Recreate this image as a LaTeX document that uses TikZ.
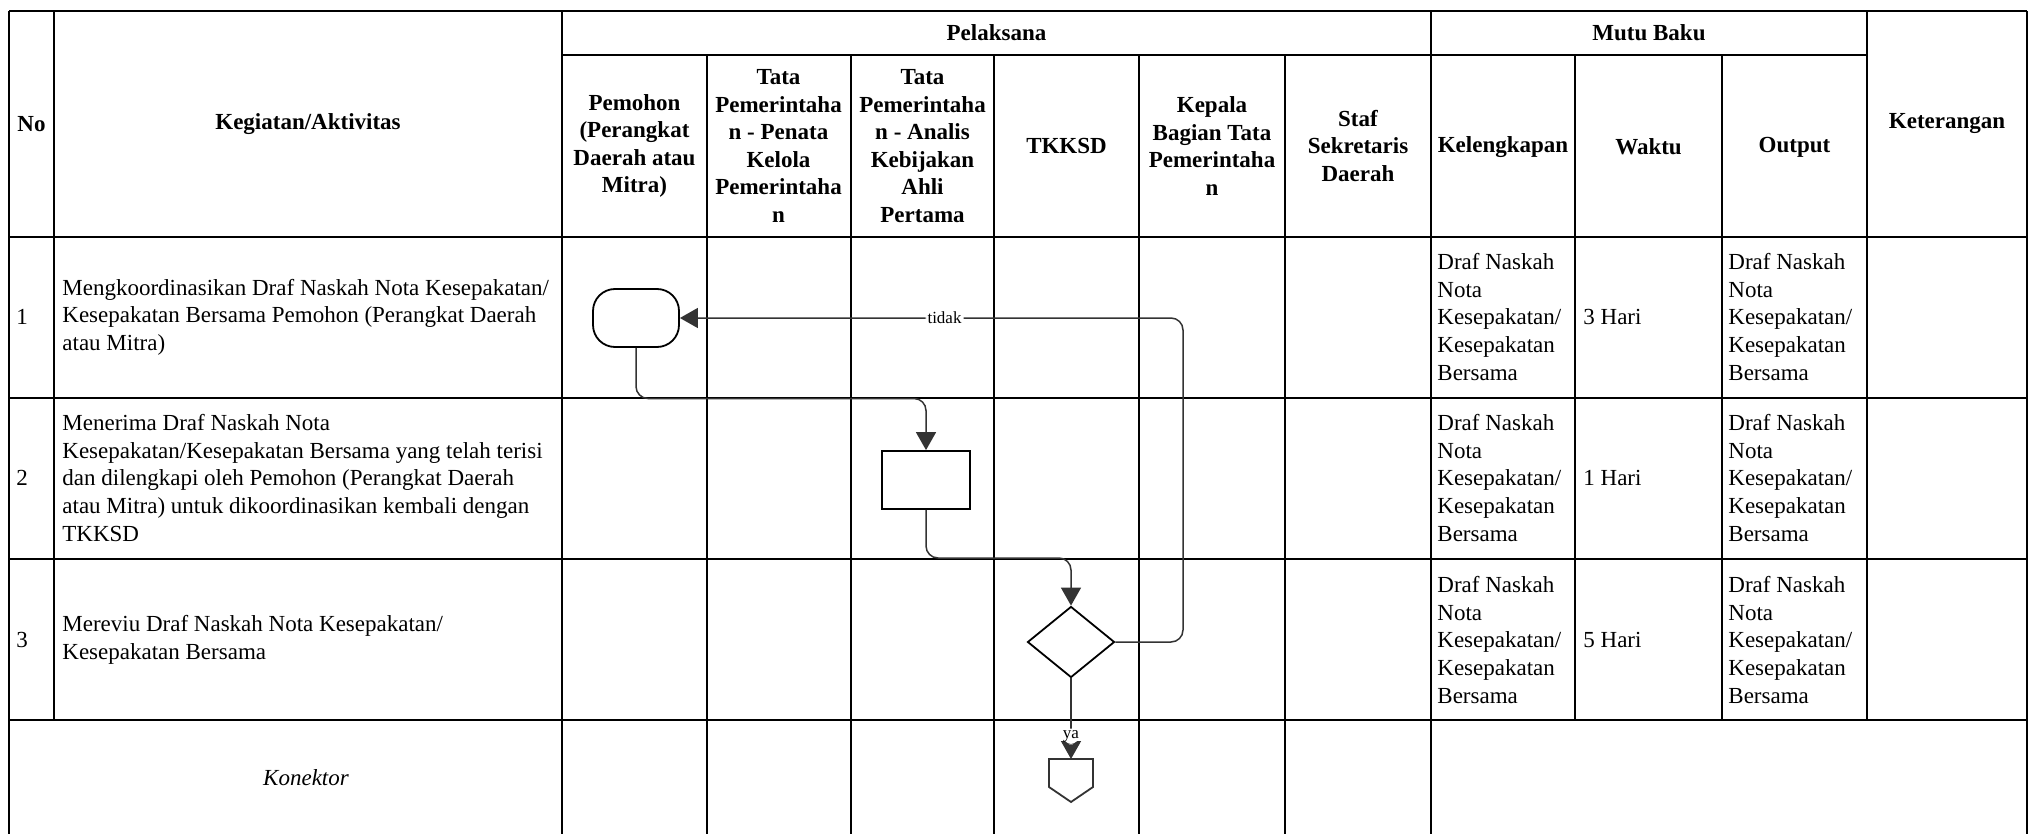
\documentclass[tikz,border=0pt]{standalone}
\usepackage{fontspec}
\setmainfont{Liberation Serif}
\usetikzlibrary{shapes.geometric,arrows.meta}
\definecolor{flowgray}{HTML}{333333}
\begin{document}
\begin{tikzpicture}[x=0.5pt,y=-0.5pt,
  grid/.style={line width=1pt,black},
  hdr/.style={font=\fontsize{11.5pt}{13.8pt}\selectfont\bfseries,align=center,inner sep=0pt},
  body/.style={font=\fontsize{11.5pt}{13.8pt}\selectfont,align=left,inner sep=0pt,anchor=west},
  conn/.style={draw=flowgray,line width=0.75pt,rounded corners=6pt,-{Triangle[length=9pt,width=10pt]}},
  lbl/.style={font=\fontsize{8.5pt}{10pt}\selectfont,fill=white,inner sep=1pt,text=black},
  term/.style={draw,line width=0.9pt,rounded corners=11pt,minimum width=43pt,minimum height=29pt,inner sep=0pt,fill=white},
  proc/.style={draw,line width=0.9pt,minimum width=44pt,minimum height=29pt,inner sep=0pt,fill=white},
  dec/.style={draw,diamond,line width=0.9pt,minimum width=43.5pt,minimum height=35.5pt,inner sep=0pt,fill=white}
]
\useasboundingbox (0,0) rectangle (2029,834);
\fill[white] (0,0) rectangle (2029,834);

% ---- table grid ----
\draw[grid] (9,11) -- (2027,11);
\draw[grid] (562,55) -- (1867,55);
\foreach \yy in {237,397.5,559,720} \draw[grid] (9,\yy) -- (2027,\yy);
\foreach \xx in {9,562,1431,2027} \draw[grid] (\xx,11) -- (\xx,840);
\draw[grid] (54,11) -- (54,720);
\draw[grid] (1867,11) -- (1867,720);
\foreach \xx in {707,851,994,1139,1285} \draw[grid] (\xx,55) -- (\xx,840);
\foreach \xx in {1575,1722} \draw[grid] (\xx,55) -- (\xx,720);

% ---- header ----
\node[hdr] (hNo) at (31.5,124) {No};
\node[hdr] (hKeg) at (308,124) {Kegiatan/Aktivitas};
\node[hdr] (hPel) at (996.5,33) {Pelaksana};
\node[hdr] (hMutu) at (1649,33) {Mutu Baku};
\node[hdr] (hKet) at (1947,124) {Keterangan};
\node[hdr] (hPem) at (634.5,146) {Pemohon\\(Perangkat\\Daerah atau\\Mitra)};
\node[hdr] (hT1) at (778.5,146) {Tata\\Pemerintaha\\n - Penata\\Kelola\\Pemerintaha\\n};
\node[hdr] (hT2) at (922.5,146) {Tata\\Pemerintaha\\n - Analis\\Kebijakan\\Ahli\\Pertama};
\node[hdr] (hTK) at (1066.5,146) {TKKSD};
\node[hdr] (hKep) at (1212,146) {Kepala\\Bagian Tata\\Pemerintaha\\n};
\node[hdr] (hStaf) at (1358,146) {Staf\\Sekretaris\\Daerah};
\node[hdr] (hKel) at (1503,147) {Kelengkapan};
\node[hdr] (hWak) at (1648.5,147) {Waktu};
\node[hdr] (hOut) at (1794.5,147) {Output};

% ---- rows ----
\node[body] (n1) at (16,317) {1};
\node[body] (n2) at (16,478) {2};
\node[body] (n3) at (16,640) {3};
\node[body] (k1) at (62,317) {Mengkoordinasikan Draf Naskah Nota Kesepakatan/\\Kesepakatan Bersama Pemohon (Perangkat Daerah\\atau Mitra)};
\node[body] (k2) at (62,478) {Menerima Draf Naskah Nota\\Kesepakatan/Kesepakatan Bersama yang telah terisi\\dan dilengkapi oleh Pemohon (Perangkat Daerah\\atau Mitra) untuk dikoordinasikan kembali dengan\\TKKSD};
\node[body] (k3) at (62,640) {Mereviu Draf Naskah Nota Kesepakatan/\\Kesepakatan Bersama};
\node[font=\fontsize{11.5pt}{13.8pt}\selectfont\itshape,inner sep=0pt] (kon) at (306,778) {Konektor};

\node[body] (l1) at (1437,317) {Draf Naskah\\Nota\\Kesepakatan/\\Kesepakatan\\Bersama};
\node[body] (l2) at (1437,478) {Draf Naskah\\Nota\\Kesepakatan/\\Kesepakatan\\Bersama};
\node[body] (l3) at (1437,640) {Draf Naskah\\Nota\\Kesepakatan/\\Kesepakatan\\Bersama};
\node[body] (w1) at (1583,317) {3 Hari};
\node[body] (w2) at (1583,478) {1 Hari};
\node[body] (w3) at (1583,640) {5 Hari};
\node[body] (o1) at (1728,317) {Draf Naskah\\Nota\\Kesepakatan/\\Kesepakatan\\Bersama};
\node[body] (o2) at (1728,478) {Draf Naskah\\Nota\\Kesepakatan/\\Kesepakatan\\Bersama};
\node[body] (o3) at (1728,640) {Draf Naskah\\Nota\\Kesepakatan/\\Kesepakatan\\Bersama};

% ---- flow shapes ----
\node[term] (term) at (636,318) {};
\node[proc] (proc) at (926,480) {};
\node[dec] (dec) at (1071,642) {};
\coordinate (off) at (1071,759);
\draw[draw=flowgray,line width=0.9pt,fill=white] (1049,759) -- (1093,759) -- (1093,787) -- (1071,802) -- (1049,787) -- cycle;

% ---- connectors ----
\draw[conn] (dec.east) -- (1183,642) -- (1183,318) -- node[lbl,pos=0.474]{tidak} (term.east);
\draw[conn] (term.south) -- (636,398.5) -- (926,398.5) -- (proc.north);
\draw[conn] (proc.south) -- (926,558) -- (1071,558) -- (dec.north);
\draw[conn] (dec.south) -- node[lbl,pos=0.72]{ya} (off);
\end{tikzpicture}
\end{document}
